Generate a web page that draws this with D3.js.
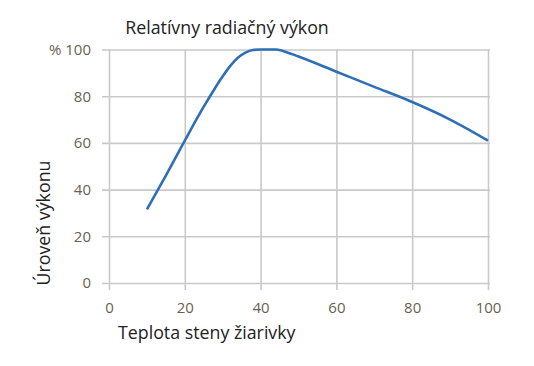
<!DOCTYPE html>
<html>
<head>
<meta charset="utf-8">
<script src="https://cdn.jsdelivr.net/npm/d3@7"></script>
<style>
  body { margin: 0; background: #fff; }
  text { font-family: "Open Sans", sans-serif; }
</style>
</head>
<body>
<div id="chart"></div>
<script>
// Chart data
var temps = [10, 15, 20, 25, 28, 30, 32, 34, 36, 38, 40, 44, 46, 50, 60, 70, 80, 90, 100];
var power = [31.5, 46, 61, 75.5, 83.5, 88.5, 93, 96.5, 98.7, 99.8, 100, 100, 99.3, 97, 90.5, 84, 77.5, 70, 61];
var xTicks = [0, 20, 40, 60, 80, 100];
var yTicks = [0, 20, 40, 60, 80, 100];

var title = "Relatívny radiačný výkon";
var xTitle = "Teplota steny žiarivky";
var yTitle = "Úroveň výkonu";

var width = 534, height = 366;
var plotL = 109, plotR = 488, plotT = 49.5, plotB = 283;

var svg = d3.select("#chart").append("svg")
  .attr("width", width)
  .attr("height", height);

var x = d3.scaleLinear().domain([0, 100]).range([plotL, plotR]);
var y = d3.scaleLinear().domain([0, 100]).range([plotB, plotT]);

// grid lines (drawn as axes with long ticks)
var gridColor = "#c9c9c9";
var tickColor = "#6a5f50";

var xAxis = svg.append("g")
  .attr("transform", "translate(0," + (plotB + 7) + ")")
  .call(d3.axisBottom(x).tickValues(xTicks).tickSize(-(plotB + 7 - plotT)).tickPadding(12));
xAxis.select(".domain").remove();
xAxis.selectAll("line").attr("stroke", gridColor).attr("stroke-width", 1.6);
xAxis.selectAll("text").attr("fill", tickColor).style("font-size", "15px");

var yAxis = svg.append("g")
  .attr("transform", "translate(" + (plotL - 7) + ",0)")
  .call(d3.axisLeft(y).tickValues(yTicks).tickSize(-(plotR + 2 - plotL + 7)).tickPadding(11)
    .tickFormat(function(d) { return d == 100 ? "% 100" : d; }));
yAxis.select(".domain").remove();
yAxis.selectAll("line").attr("stroke", gridColor).attr("stroke-width", 1.6);
yAxis.selectAll("text").attr("fill", tickColor).style("font-size", "15px");

// the curve
var pts = temps.map(function(t, i) { return [t, power[i]]; });
var line = d3.line()
  .x(function(d) { return x(d[0]); })
  .y(function(d) { return y(d[1]); })
  .curve(d3.curveMonotoneX);

svg.append("path")
  .datum(pts)
  .attr("d", line)
  .attr("fill", "none")
  .attr("stroke", "#2f6fb5")
  .attr("stroke-width", 2.6);

// titles
svg.append("text")
  .attr("x", 227).attr("y", 34)
  .attr("text-anchor", "middle")
  .attr("fill", "#222")
  .style("font-size", "17.8px")
  .text(title);

svg.append("text")
  .attr("x", 118).attr("y", 339)
  .attr("fill", "#222")
  .style("font-size", "17.8px")
  .text(xTitle);

svg.append("text")
  .attr("transform", "translate(50,223) rotate(-90)")
  .attr("text-anchor", "middle")
  .attr("fill", "#222")
  .style("font-size", "17.8px")
  .text(yTitle);
</script>
</body>
</html>
